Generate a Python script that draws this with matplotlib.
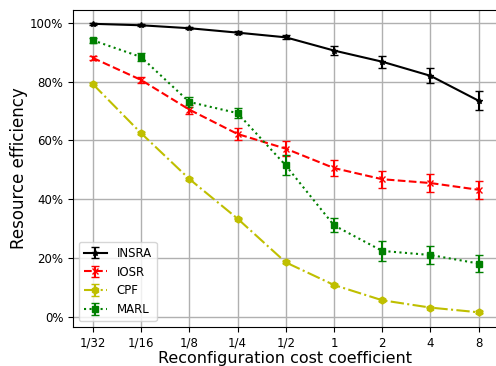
import matplotlib
matplotlib.use("Agg")
import matplotlib.pyplot as plt
from matplotlib.ticker import PercentFormatter

# =========================
# data
# =========================
x_labels = ["1/32", "1/16", "1/8", "1/4", "1/2", "1", "2", "4", "8"]

insra = [99.7, 99.2, 98.2, 96.7, 95.1, 90.6, 86.8, 82.0, 73.5]
insra_err = [0.3, 0.3, 0.4, 0.5, 0.7, 1.5, 2.1, 2.5, 3.2]

iosr = [88.1, 80.6, 70.5, 62.2, 57.2, 50.6, 46.8, 45.5, 43.2]
iosr_err = [0.7, 1.0, 1.4, 2.0, 2.6, 2.7, 2.9, 3.0, 3.0]

cpf = [79.2, 62.5, 46.9, 33.4, 18.5, 10.8, 5.6, 3.1, 1.5]
cpf_err = [0.3, 0.3, 0.3, 0.3, 0.3, 0.3, 0.3, 0.3, 0.3]

marl = [94.1, 88.4, 73.1, 69.3, 51.5, 31.1, 22.4, 21.0, 18.1]
marl_err = [0.8, 1.4, 1.6, 1.7, 3.4, 2.4, 3.3, 3.2, 2.8]

xs = list(range(len(x_labels)))

fig = plt.figure(figsize=(4.96, 3.66), dpi=100)
ax = fig.add_axes([73 / 496, 39 / 366, 425 / 496, 317 / 366])

ax.errorbar(xs, insra, yerr=insra_err, color="k", linestyle="-", marker="*",
            markersize=4, capsize=3, linewidth=1.5, label="INSRA")
ax.errorbar(xs, iosr, yerr=iosr_err, color="r", linestyle="--", marker="x",
            markersize=4, capsize=3, linewidth=1.5, label="IOSR")
ax.errorbar(xs, cpf, yerr=cpf_err, color="y", linestyle="-.", marker="h",
            markersize=5, capsize=3, linewidth=1.5, label="CPF")
ax.errorbar(xs, marl, yerr=marl_err, color="g", linestyle=":", marker="s",
            markersize=5, capsize=3, linewidth=1.5, label="MARL")

ax.set_xticks(xs)
ax.set_xticklabels(x_labels, fontsize=8.5)
ax.set_xlim(-0.41, 8.4)
ax.set_ylim(-3.5, 104.4)
ax.set_yticks([0, 20, 40, 60, 80, 100])
ax.yaxis.set_major_formatter(PercentFormatter(decimals=0))
ax.tick_params(axis="y", labelsize=8.5)
ax.grid(True, color="#b0b0b0", linewidth=1)
ax.set_axisbelow(True)

ax.set_xlabel("Reconfiguration cost coefficient", fontsize=11.5, labelpad=1)
ax.set_ylabel("Resource efficiency", fontsize=12, labelpad=1.5)
ax.legend(loc="lower left", fontsize=8.5)

fig.savefig("out.png", dpi=100)
